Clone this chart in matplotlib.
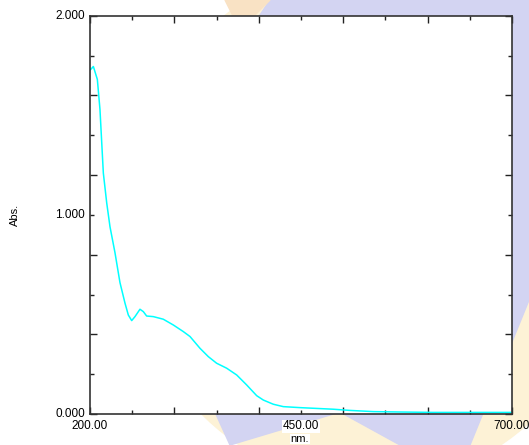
import numpy as np
import matplotlib.pyplot as plt
from matplotlib.patches import Polygon, Ellipse
from matplotlib.ticker import MultipleLocator, NullFormatter

# spectrum (nm, Abs.)
wavelength = [200.8, 204, 208.7, 211.8, 215.8, 219.8, 223.7, 229.6, 235.5, 241.5,
              245.4, 249.4, 253.3, 259.2, 263.2, 267.1, 275, 286.8, 298.7, 310.5,
              318.5, 330.3, 340.2, 350, 361.9, 373.8, 385.6, 397.5, 405.4, 417.2,
              429, 448.8, 468.6, 488.3, 508, 535.7, 567, 606, 650, 700]
absorbance = [1.73, 1.745, 1.68, 1.53, 1.21, 1.06, 0.94, 0.81, 0.66, 0.556,
              0.497, 0.469, 0.489, 0.526, 0.514, 0.492, 0.489, 0.476, 0.447, 0.414,
              0.389, 0.33, 0.288, 0.255, 0.23, 0.196, 0.146, 0.092, 0.07, 0.049,
              0.037, 0.032, 0.028, 0.024, 0.018, 0.012, 0.01, 0.008, 0.008, 0.008]
x_labels = [200, 450, 700]
y_labels = [0, 1, 2]

plt.rcParams['font.family'] = ['Liberation Sans', 'DejaVu Sans']

fig = plt.figure(figsize=(5.29, 4.45), dpi=100)
W, H = 529.0, 445.0

# faint logo watermark behind the plot
def px(pts):
    return [(x / W, 1 - y / H) for x, y in pts]

fig.patches.append(Ellipse((370 / W, 1 - 225 / H), 490 / W, 520 / H,
                           transform=fig.transFigure, color='#fdf2d6', zorder=-3))
fig.patches.append(Polygon(px([(270, 0), (529, 0), (529, 300), (470, 445),
                               (400, 445), (340, 412), (230, 445), (215, 412),
                               (250, 30)]),
                           closed=True, transform=fig.transFigure,
                           color='#d3d4f2', zorder=-2))
fig.patches.append(Polygon(px([(225, 0), (270, 0), (250, 20), (235, 20)]),
                           closed=True, transform=fig.transFigure,
                           color='#f9e2c4', zorder=-2))

ax = fig.add_axes([90 / W, 31 / H, 422 / W, 398.3 / H])
ax.set_zorder(2)
ax.set_facecolor('white')
ax.plot(wavelength, absorbance, color='#00ffff', lw=1.1)

ax.set_xlim(200, 700)
ax.set_ylim(0, 2)
ax.xaxis.set_major_locator(MultipleLocator(100))
ax.xaxis.set_minor_locator(MultipleLocator(50))
ax.yaxis.set_major_locator(MultipleLocator(0.4))
ax.yaxis.set_minor_locator(MultipleLocator(0.2))
ax.xaxis.set_major_formatter(NullFormatter())
ax.yaxis.set_major_formatter(NullFormatter())
ax.tick_params(which='both', direction='in', top=True, right=True, color='#222222')
ax.tick_params(which='major', length=5, width=1)
ax.tick_params(which='minor', length=3, width=1)
for s in ax.spines.values():
    s.set_color('#333333')
    s.set_linewidth(1.2)

tr = ax.get_xaxis_transform()
for v in x_labels:
    bbox = dict(facecolor='white', edgecolor='none', pad=0.3) if v == 450 else None
    ax.text(v, -0.016, f"{v:.2f}", transform=tr, ha='center', va='top',
            fontsize=8.5, bbox=bbox, clip_on=False)
tr = ax.get_yaxis_transform()
for v in y_labels:
    ax.text(-0.012, v, f"{v:.3f}", transform=tr, ha='right', va='center',
            fontsize=8.5, clip_on=False)

fig.text(300 / W, 1 - 439 / H, "nm.", ha='center', va='center', fontsize=8,
         bbox=dict(facecolor='white', edgecolor='none', pad=0.2))
fig.text(15 / W, 1 - 215 / H, "Abs.", ha='center', va='center', fontsize=8,
         rotation=90)

fig.savefig('out.png', dpi=100)
